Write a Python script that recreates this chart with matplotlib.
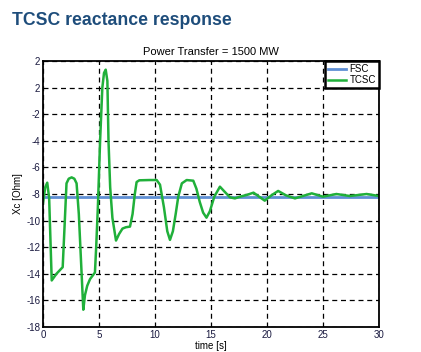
import numpy as np
import matplotlib.pyplot as plt

plt.rcParams['font.family'] = ['Liberation Sans', 'DejaVu Sans']

# data
t_tcsc = [0, 0.2, 0.38, 0.55, 0.78, 1.2, 1.76, 1.95, 2.1, 2.3, 2.56, 2.8, 3.0,
          3.2, 3.6, 3.75, 3.95, 4.2, 4.64, 4.75, 4.9, 5.1, 5.3, 5.45, 5.6, 5.75,
          5.85, 6.0, 6.2, 6.52, 6.8, 7.1, 7.4, 7.77, 8.0, 8.2, 8.36, 8.6, 9.5,
          10.15, 10.45, 10.8, 11.1, 11.34, 11.6, 11.85, 12.08, 12.4, 12.83,
          13.42, 13.7, 14.0, 14.3, 14.6, 14.9, 15.3, 15.8, 16.3, 16.7, 17.14,
          17.6, 18.2, 18.8, 19.3, 19.8, 20.4, 21.0, 21.7, 22.5, 23.2, 24.0,
          25.0, 26.2, 27.4, 28.9, 30]
x_tcsc = [-8.7, -7.5, -7.15, -8.3, -14.5, -14.0, -13.5, -10.0, -7.2, -6.85,
          -6.75, -6.85, -7.2, -9.5, -16.7, -15.6, -14.9, -14.4, -13.9, -12.0,
          -9.0, -4.0, 0.0, 1.1, 1.35, 0.5, -4.0, -7.5, -9.8, -11.5, -11.0,
          -10.6, -10.5, -10.45, -9.5, -8.0, -7.1, -6.97, -6.95, -6.95, -7.3,
          -9.0, -10.8, -11.45, -10.8, -9.5, -8.2, -7.2, -6.95, -7.0, -7.6,
          -8.6, -9.4, -9.78, -9.3, -8.2, -7.45, -7.9, -8.25, -8.33, -8.2,
          -8.07, -7.9, -8.2, -8.5, -8.1, -7.77, -8.1, -8.33, -8.15, -7.95,
          -8.2, -8.0, -8.15, -8.0, -8.15]
t_fsc = [0, 30]
x_fsc = [-8.2, -8.2]

yticks = [-18, -16, -14, -12, -10, -8, -6, -4, -2, 0, 2]
ytick_labels = ['-18', '-16', '-14', '-12', '-10', '-8', '-6', '-4', '-2', '2', '2']
xticks = [0, 5, 10, 15, 20, 25, 30]

fig = plt.figure(figsize=(4.21, 3.52), dpi=100)
ax = fig.add_axes([0.1021, 0.071, 0.798, 0.7557])

ax.plot(t_fsc, x_fsc, color='#5f8fd4', lw=2, label='FSC')
ax.plot(t_tcsc, x_tcsc, color='#20b03a', lw=1.8, label='TCSC')

ax.set_xlim(0, 30)
ax.set_ylim(-18, 2)
ax.set_xticks(xticks)
ax.set_yticks(yticks)
ax.set_yticklabels(ytick_labels)
ax.tick_params(length=0, labelsize=7, colors='#1a1a40', pad=2)
ax.grid(True, color='black', linestyle=(0, (4, 3)), lw=0.9)
for s in ax.spines.values():
    s.set_linewidth(1.3)

ax.set_xlabel('time [s]', fontsize=7, labelpad=1)
ax.set_ylabel('Xc [Ohm]', fontsize=7, labelpad=2)
ax.set_title('Power Transfer = 1500 MW', fontsize=8, pad=4)

leg = ax.legend(loc='upper right', fontsize=7, fancybox=False, framealpha=1,
                borderpad=0.3, handlelength=1.8, handletextpad=0.4,
                borderaxespad=0, labelspacing=0.15)
leg.get_frame().set_edgecolor('black')
leg.get_frame().set_linewidth(1.8)

fig.text(12 / 421, 1 - 25 / 352, 'TCSC reactance response', fontsize=12.7,
         fontweight='bold', color='#1e4d7b', ha='left', va='baseline')

fig.savefig('out.png', dpi=100)
